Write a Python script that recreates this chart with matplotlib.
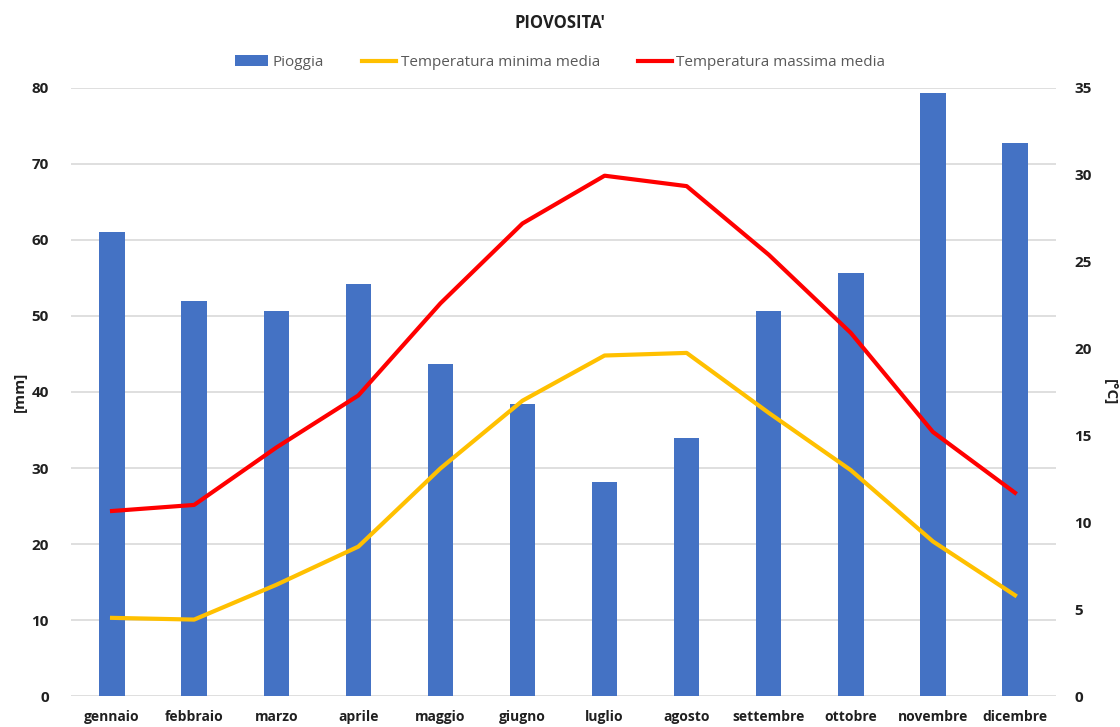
import matplotlib
matplotlib.use("Agg")
import matplotlib.pyplot as plt
import numpy as np

mesi = ["gennaio", "febbraio", "marzo", "aprile", "maggio", "giugno",
        "luglio", "agosto", "settembre", "ottobre", "novembre", "dicembre"]
pioggia = [61.0, 52.0, 50.6, 54.2, 43.7, 38.4, 28.1, 33.9, 50.7, 55.6, 79.4, 72.8]
t_min = [4.5, 4.4, 6.4, 8.6, 13.1, 17.0, 19.6, 19.75, 16.3, 13.0, 8.9, 5.8]
t_max = [10.65, 11.0, 14.3, 17.3, 22.6, 27.2, 29.95, 29.35, 25.4, 20.9, 15.2, 11.7]

plt.rcParams['font.family'] = ['Open Sans', 'DejaVu Sans']

fig = plt.figure(figsize=(11.2, 7.27), dpi=100)
ax = fig.add_axes([0.0634, 0.0426, 0.8795, 0.8364])
x = np.arange(len(mesi))
ax.bar(x, pioggia, width=0.31, color="#4472C4", label="Pioggia", zorder=2)
ax.set_ylim(0, 80)
ax.set_xlim(-0.5, 11.5)
ax.set_yticks(range(0, 81, 10))
ax.yaxis.grid(True, color="#d9d9d9", linewidth=1.2, zorder=0)
ax.set_axisbelow(True)
for s in ax.spines.values():
    s.set_visible(False)
ax.tick_params(length=0)
ax.set_xticks(x)
ax.set_xticklabels(mesi, fontsize=10, fontweight="bold", color="#202020")
ax.tick_params(axis='x', pad=10)
ax.tick_params(axis='y', pad=16, labelsize=11, labelcolor="#202020")
for t in ax.get_yticklabels():
    t.set_fontweight("bold")
ax.set_ylabel("[mm]", fontsize=11, fontweight="bold", color="#202020",
              ha="center", va="center")
ax.yaxis.set_label_coords(-0.052, 0.5)

ax2 = ax.twinx()
ax2.plot(x, t_min, color="#FFC000", linewidth=3, label="Temperatura minima media", zorder=3)
ax2.plot(x, t_max, color="#FF0000", linewidth=3, label="Temperatura massima media", zorder=3)
ax2.set_ylim(0, 35)
ax2.set_yticks(range(0, 36, 5))
for s in ax2.spines.values():
    s.set_visible(False)
ax2.tick_params(length=0, pad=13, labelsize=11, labelcolor="#202020")
for t in ax2.get_yticklabels():
    t.set_fontweight("bold")
ax2.set_ylabel("[°C]", fontsize=11, fontweight="bold", color="#202020",
               rotation=270, ha="center", va="center")
ax2.yaxis.set_label_coords(1.0545, 0.5)

fig.text(0.5, 0.968, "PIOVOSITA'", ha="center", va="center", fontsize=12,
         fontweight="bold", color="#202020")

h1, l1 = ax.get_legend_handles_labels()
h2, l2 = ax2.get_legend_handles_labels()
fig.legend(h1 + h2, l1 + l2, loc="center", bbox_to_anchor=(0.5, 0.914), ncol=3,
           frameon=False, fontsize=11, labelcolor="#595959", handlelength=2.2,
           handletextpad=0.3, columnspacing=2.5)

fig.savefig("out.png", dpi=100)
